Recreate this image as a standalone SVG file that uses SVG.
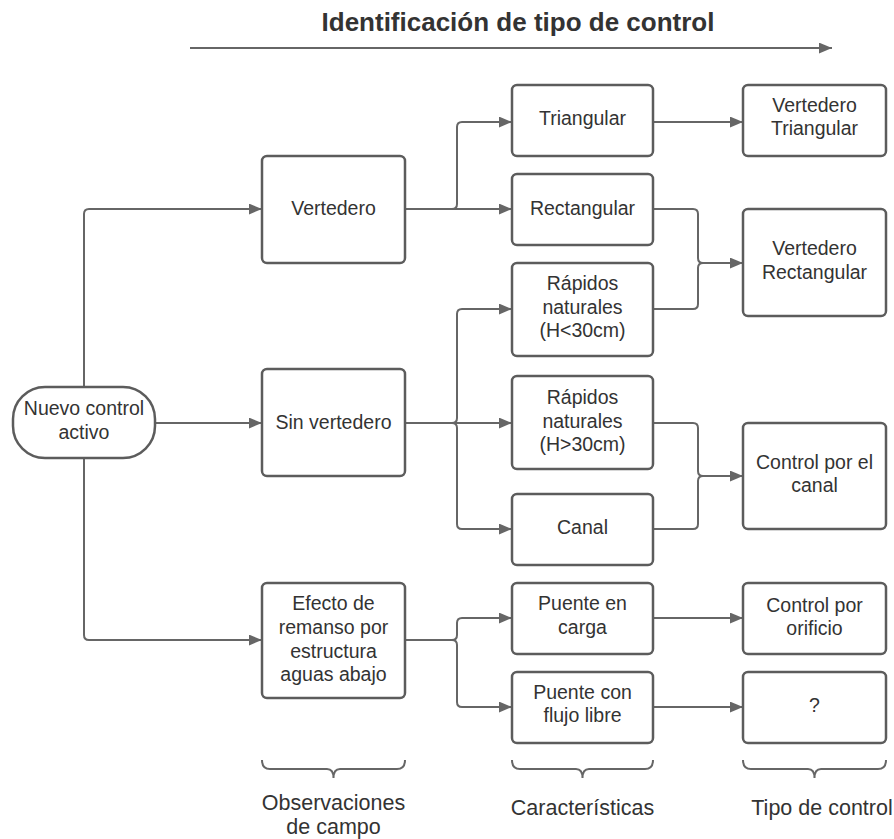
<svg xmlns="http://www.w3.org/2000/svg" width="894" height="839" viewBox="0 0 894 839">
<style>
.box{fill:#fff;stroke:#5c5c5c;stroke-width:2.5}
.t{font-family:"Liberation Sans",Arial,sans-serif;font-size:19.5px;fill:#333;text-anchor:middle}
.lbl{font-family:"Liberation Sans",Arial,sans-serif;font-size:21.5px;fill:#333;text-anchor:middle}
.title{font-family:"Liberation Sans",Arial,sans-serif;font-size:26px;font-weight:bold;fill:#333;text-anchor:middle}
.c{fill:none;stroke:#666;stroke-width:2}
.a{fill:none;stroke:#666;stroke-width:2;marker-end:url(#ah)}
</style>
<defs>
<marker id="ah" viewBox="0 0 12 10" refX="12" refY="5" markerWidth="13" markerHeight="11" markerUnits="userSpaceOnUse" orient="auto">
<path d="M0,0 L12,5 L0,10 Z" fill="#666"/>
</marker>
</defs>
<rect width="894" height="839" fill="#fff"/>
<g id="title">
<text class="title" x="518" y="31">Identificación de tipo de control</text>
<line class="a" x1="190" y1="48" x2="832" y2="48"/>
</g>
<g id="connectors">
<path class="a" d="M84,387 V214 Q84,209 89,209 H262"/>
<path class="a" d="M155,423 H262"/>
<path class="a" d="M84,458 V635 Q84,640 89,640 H262"/>
<path class="a" d="M405,209 H512"/>
<path class="a" d="M405,209 H452 Q457,209 457,204 V127 Q457,122 462,122 H512"/>
<path class="a" d="M405,423 H512"/>
<path class="a" d="M405,423 H452 Q457,423 457,418 V314 Q457,309 462,309 H512"/>
<path class="a" d="M405,423 H452 Q457,423 457,428 V524 Q457,529 462,529 H512"/>
<path class="a" d="M405,640 H452 Q457,640 457,635 V623 Q457,618 462,618 H512"/>
<path class="a" d="M405,640 H452 Q457,640 457,645 V702 Q457,707 462,707 H512"/>
<path class="a" d="M653,122 H743"/>
<path class="c" d="M653,209 H693 Q698,209 698,214 V258 Q698,263 703,263"/>
<path class="c" d="M653,309 H693 Q698,309 698,304 V268 Q698,263 703,263"/>
<path class="a" d="M703,263 H743"/>
<path class="c" d="M653,423 H693 Q698,423 698,428 V471 Q698,476 703,476"/>
<path class="c" d="M653,529 H693 Q698,529 698,524 V481 Q698,476 703,476"/>
<path class="a" d="M703,476 H743"/>
<path class="a" d="M653,618 H743"/>
<path class="a" d="M653,707 H743"/>
</g>
<g id="nuevo">
<rect class="box" x="13" y="387" width="142" height="71" rx="32" ry="32"/>
<text class="t" x="84" y="415">Nuevo control</text>
<text class="t" x="84" y="439">activo</text>
</g>
<g id="vertedero">
<rect class="box" x="262" y="156" width="143" height="107" rx="5"/>
<text class="t" x="333.5" y="215">Vertedero</text>
</g>
<g id="sinvertedero">
<rect class="box" x="262" y="369" width="143" height="107" rx="5"/>
<text class="t" x="333.5" y="429">Sin vertedero</text>
</g>
<g id="efecto">
<rect class="box" x="262" y="583" width="143" height="115" rx="5"/>
<text class="t" x="333.5" y="610">Efecto de</text>
<text class="t" x="333.5" y="634">remanso por</text>
<text class="t" x="333.5" y="657.5">estructura</text>
<text class="t" x="333.5" y="681">aguas abajo</text>
</g>
<g id="triangular">
<rect class="box" x="512" y="85" width="141" height="71" rx="5"/>
<text class="t" x="582.5" y="125">Triangular</text>
</g>
<g id="rectangular">
<rect class="box" x="512" y="174" width="141" height="71" rx="5"/>
<text class="t" x="582.5" y="215">Rectangular</text>
</g>
<g id="rapidos-menor">
<rect class="box" x="512" y="263" width="141" height="93" rx="5"/>
<text class="t" x="582.5" y="290">Rápidos</text>
<text class="t" x="582.5" y="314">naturales</text>
<text class="t" x="582.5" y="337">(H&lt;30cm)</text>
</g>
<g id="rapidos-mayor">
<rect class="box" x="512" y="376" width="141" height="93" rx="5"/>
<text class="t" x="582.5" y="404">Rápidos</text>
<text class="t" x="582.5" y="428">naturales</text>
<text class="t" x="582.5" y="451">(H&gt;30cm)</text>
</g>
<g id="canal">
<rect class="box" x="512" y="494" width="141" height="71" rx="5"/>
<text class="t" x="582.5" y="534">Canal</text>
</g>
<g id="puente-carga">
<rect class="box" x="512" y="583" width="141" height="71" rx="5"/>
<text class="t" x="582.5" y="610">Puente en</text>
<text class="t" x="582.5" y="634">carga</text>
</g>
<g id="puente-libre">
<rect class="box" x="512" y="672" width="141" height="71" rx="5"/>
<text class="t" x="582.5" y="699">Puente con</text>
<text class="t" x="582.5" y="722">flujo libre</text>
</g>
<g id="vert-triangular">
<rect class="box" x="743" y="85" width="143" height="71" rx="5"/>
<text class="t" x="814.5" y="112">Vertedero</text>
<text class="t" x="814.5" y="135">Triangular</text>
</g>
<g id="vert-rectangular">
<rect class="box" x="743" y="209" width="143" height="107" rx="5"/>
<text class="t" x="814.5" y="255">Vertedero</text>
<text class="t" x="814.5" y="279">Rectangular</text>
</g>
<g id="control-canal">
<rect class="box" x="743" y="423" width="143" height="106" rx="5"/>
<text class="t" x="814.5" y="469">Control por el</text>
<text class="t" x="814.5" y="492">canal</text>
</g>
<g id="control-orificio">
<rect class="box" x="743" y="583" width="143" height="71" rx="5"/>
<text class="t" x="814.5" y="612">Control por</text>
<text class="t" x="814.5" y="635">orificio</text>
</g>
<g id="desconocido">
<rect class="box" x="743" y="672" width="143" height="71" rx="5"/>
<text class="t" x="814.5" y="712">?</text>
</g>
<g id="braces">
<path class="c" d="M262,760 Q262,769 270,769 H327 Q333.5,769 333.5,778 Q333.5,769 340,769 H397 Q405,769 405,760"/>
<path class="c" d="M512,760 Q512,769 520,769 H576 Q582.5,769 582.5,778 Q582.5,769 589,769 H645 Q653,769 653,760"/>
<path class="c" d="M743,760 Q743,769 751,769 H808 Q814.5,769 814.5,778 Q814.5,769 821,769 H878 Q886,769 886,760"/>
</g>
<g id="labels">
<text class="lbl" x="333.5" y="810">Observaciones</text>
<text class="lbl" x="333.5" y="834">de campo</text>
<text class="lbl" x="582.5" y="815">Características</text>
<text class="lbl" x="822" y="815">Tipo de control</text>
</g>
</svg>
